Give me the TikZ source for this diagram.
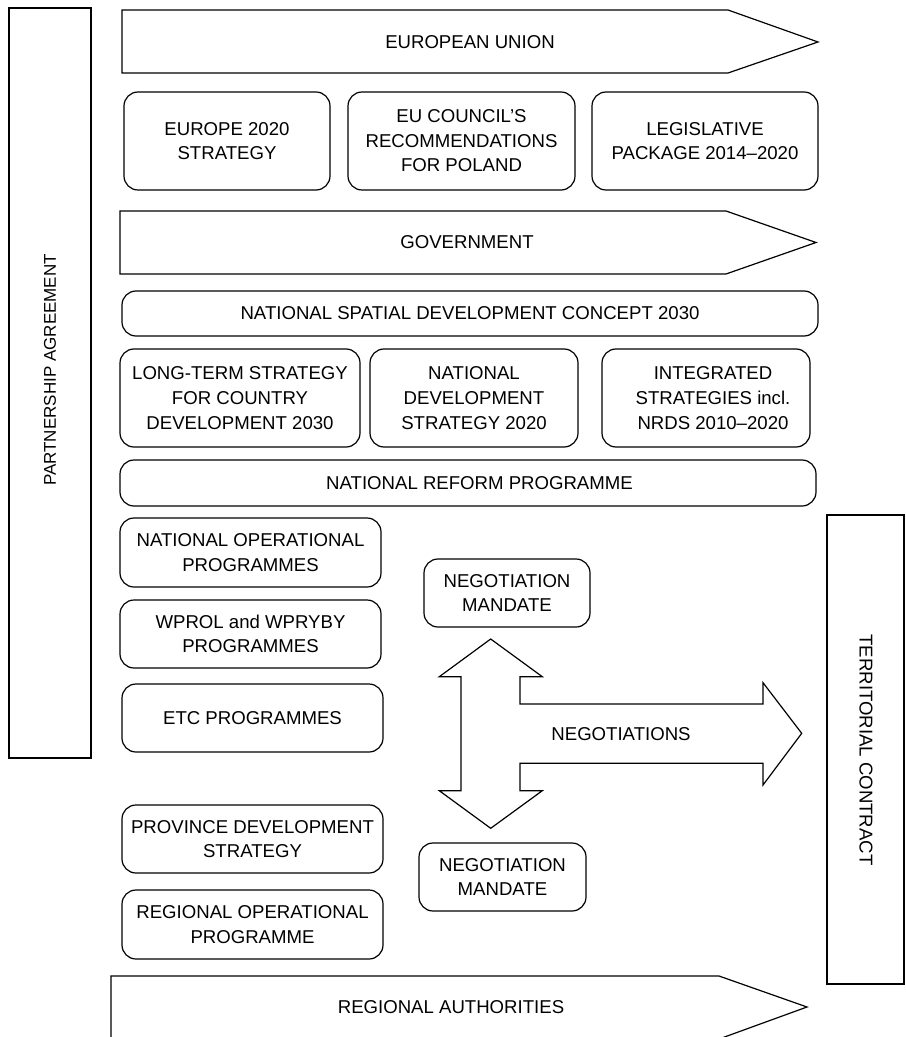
\documentclass[tikz,border=0pt]{standalone}
\usepackage{fontspec}
\setmainfont{Liberation Sans}
\usepackage{xcolor}
\usepackage{tikz}

\tikzset{
	txt/.style={font=\fontsize{9.3}{12.3}\selectfont, align=center, inner sep=0pt},
	box/.style={txt, draw=black, line width=0.6pt, rounded corners=7pt},
	frame/.style={draw=black, line width=0.6pt},
}

\begin{document}
\begin{tikzpicture}[x=0.5pt, y=-0.5pt]
	\useasboundingbox (0,0) rectangle (905,1037);
	% side frames
	\draw[frame] (9,8) rectangle (91,758);
	\node[txt, rotate=90, font=\fontsize{8.5}{10}\selectfont] (partner) at (50,370) {PARTNERSHIP AGREEMENT};
	\draw[frame] (827,515) rectangle (904,984);
	\node[txt, rotate=-90] (territ) at (866,750) {TERRITORIAL CONTRACT};
	% european union
	\draw[frame] (122,10) -- (728,10) -- (818,42) -- (728,73) -- (122,73) -- cycle;
	\node[txt] (eu) at (470,42) {EUROPEAN UNION};
	\node[box, minimum width=103pt, minimum height=49pt] (eustrat) at (227,141) {EUROPE 2020\\STRATEGY};
	\node[box, minimum width=113.5pt, minimum height=49pt] (council) at (461.5,141) {EU COUNCIL'S\\RECOMMENDATIONS\\FOR POLAND};
	\node[box, minimum width=113pt, minimum height=49pt] (legis) at (705,141) {LEGISLATIVE\\PACKAGE 2014--2020};
	% government
	\draw[frame] (120,211) -- (726,211) -- (816,242.5) -- (726,274) -- (120,274) -- cycle;
	\node[txt] (gov) at (467,242.5) {GOVERNMENT};
	\node[box, minimum width=348pt, minimum height=22.5pt] (spatial) at (470,313.5) {NATIONAL SPATIAL DEVELOPMENT CONCEPT 2030};
	\node[box, minimum width=120pt, minimum height=49pt] (longterm) at (240,398) {LONG-TERM STRATEGY\\FOR COUNTRY\\DEVELOPMENT 2030};
	\node[box, minimum width=104pt, minimum height=49pt] (natdev) at (474,398) {NATIONAL\\DEVELOPMENT\\STRATEGY 2020};
	\node[box, minimum width=104pt, minimum height=49pt] (integr) at (706,398) {\hspace*{7pt}INTEGRATED\\\hspace*{7pt}STRATEGIES incl.\\\hspace*{7pt}NRDS 2010--2020};
	\node[box, minimum width=348pt, minimum height=23pt] (reform) at (468,483) {\hspace*{11.5pt}NATIONAL REFORM PROGRAMME};
	\node[box, minimum width=130.5pt, minimum height=34.5pt] (natop) at (250.5,552.5) {NATIONAL OPERATIONAL\\PROGRAMMES};
	\node[box, minimum width=130.5pt, minimum height=34pt] (wprol) at (250.5,634) {WPROL and WPRYBY\\PROGRAMMES};
	\node[box, minimum width=130.5pt, minimum height=34pt] (etcprog) at (252.5,718) {ETC PROGRAMMES};
	\node[box, minimum width=130.5pt, minimum height=34pt] (province) at (252.5,839) {PROVINCE DEVELOPMENT\\STRATEGY};
	\node[box, minimum width=130.5pt, minimum height=34.5pt] (regop) at (252.5,924.5) {REGIONAL OPERATIONAL\\PROGRAMME};
	% negotiations
	\node[box, minimum width=83pt, minimum height=34pt] (mandatea) at (507,593) {NEGOTIATION\\MANDATE};
	\node[box, minimum width=83.5pt, minimum height=34pt] (mandateb) at (502.5,877) {NEGOTIATION\\MANDATE};
	\draw[frame] (490.7,639) -- (542.3,676.7) -- (520,676.7) -- (520,704) -- (763,704) -- (763,682.7)
		-- (801.7,733.3) -- (763,785) -- (763,763.3) -- (520,763.3) -- (520,790.7) -- (542.3,790.7)
		-- (490.7,828.3) -- (439.3,790.7) -- (461,790.7) -- (461,676.7) -- (439.3,676.7) -- cycle;
	\node[txt] (negot) at (621,734) {NEGOTIATIONS};
	% regional authorities
	\draw[frame] (111,976) -- (719,976) -- (807,1007) -- (719,1039) -- (111,1039) -- cycle;
	\node[txt] (regauth) at (451,1007) {REGIONAL AUTHORITIES};
\end{tikzpicture}
\end{document}
